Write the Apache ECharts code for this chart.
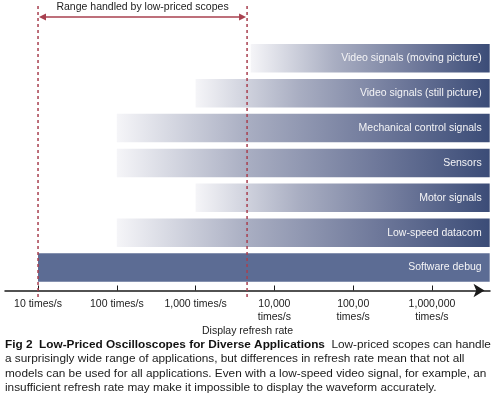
<!DOCTYPE html>
<html><head><meta charset="utf-8">
<script src="https://cdn.jsdelivr.net/npm/echarts@6/dist/echarts.min.js"></script>
<style>html,body{margin:0;padding:0;background:#fff}#c{width:495px;height:400px}</style>
</head><body><div id="c"></div>
<script>
// ---- data ----
const categories = ['', 'Video signals (moving picture)', 'Video signals (still picture)', 'Mechanical control signals', 'Sensors', 'Motor signals', 'Low-speed datacom', 'Software debug'];
const startRates = [null, 5000, 1000, 100, 100, 1000, 100, 10];
const endRates = [null, 5.4e6, 5.4e6, 5.4e6, 5.4e6, 5.4e6, 5.4e6, 5.4e6];
const solidRows = [false, false, false, false, false, false, false, true];
const tickRates = [10, 100, 1000, 10000, 100000, 1000000];
const tickLabels = ['10 times/s', '100 times/s', '1,000 times/s', '10,000\ntimes/s', '100,00\ntimes/s', '1,000,000\ntimes/s'];
const rangeRates = [10, 4500];
const rangeLabel = 'Range handled by low-priced scopes';
const axisRange = [3.81, 5.45e6];
const axisName = 'Display refresh rate';
const captionTitle = 'Fig 2  Low-Priced Oscilloscopes for Diverse Applications';
const captionLines = [
  '  Low-priced scopes can handle',
  'a surprisingly wide range of applications, but differences in refresh rate mean that not all',
  'models can be used for all applications. Even with a low-speed video signal, for example, an',
  'insufficient refresh rate may make it impossible to display the waveform accurately.'
];

// ---- chart ----
const FONT = '"Liberation Sans", Arial, Helvetica, sans-serif';
const lg = v => Math.log10(v);
const tickExps = tickRates.map(lg);
const grad = new echarts.graphic.LinearGradient(0, 0, 1, 0, [
  {offset: 0, color: '#f5f5f8'},
  {offset: 0.35, color: '#a9aec2'},
  {offset: 0.7, color: '#6e789a'},
  {offset: 1, color: '#3b4c77'}
]);
const baseData = startRates.map(v => v == null ? '-' : lg(v));
const spanData = startRates.map((v, i) => v == null ? '-' : {
  value: lg(endRates[i]) - lg(v),
  itemStyle: {color: solidRows[i] ? '#5c6c94' : grad}
});

const chart = echarts.init(document.getElementById('c'), null, {renderer: 'canvas'});
chart.setOption({
  animation: false,
  backgroundColor: '#fff',
  textStyle: {fontFamily: FONT},
  title: {
    left: 5, top: 337, padding: 0,
    text: '{b|' + captionTitle + '}' + captionLines.join('\n'),
    textStyle: {
      fontSize: 11.8, fontWeight: 'normal', color: '#1a1a1a', lineHeight: 14.5, fontFamily: FONT,
      rich: {b: {fontSize: 11.8, fontWeight: 'bold', color: '#111', lineHeight: 14.5, fontFamily: FONT}}
    }
  },
  grid: {left: 5, right: 5, top: 6, height: 279, containLabel: false},
  xAxis: {
    type: 'value', min: lg(axisRange[0]), max: lg(axisRange[1]), offset: 5.5,
    axisLine: {show: true, symbol: ['none', 'arrow'], symbolSize: [10, 11], symbolOffset: [0, -5.5],
      lineStyle: {color: '#1a1a1a', width: 1.5}},
    axisTick: {show: true, inside: true, length: 5, customValues: tickExps, lineStyle: {color: '#1a1a1a', width: 1}},
    axisLabel: {
      customValues: tickExps, margin: 7, fontSize: 10.5, color: '#222', lineHeight: 13, fontFamily: FONT,
      formatter: v => {
        let best = 0;
        tickExps.forEach((t, i) => { if (Math.abs(t - v) < Math.abs(tickExps[best] - v)) best = i; });
        return tickLabels[best];
      }
    },
    splitLine: {show: false},
    name: axisName, nameLocation: 'middle', nameGap: 35, nameMoveOverlap: false,
    nameTextStyle: {fontSize: 10.5, color: '#222', fontFamily: FONT}
  },
  yAxis: {
    type: 'category', data: categories, inverse: true,
    axisLine: {show: false}, axisTick: {show: false}, axisLabel: {show: false}, splitLine: {show: false}
  },
  series: [
    {type: 'bar', stack: 'r', data: baseData, barWidth: 28.5, silent: true,
      itemStyle: {color: 'rgba(0,0,0,0)'}},
    {type: 'bar', stack: 'r', data: spanData, barWidth: 28.5, silent: true,
      label: {show: true, position: 'insideRight', distance: 8, formatter: '{b}',
        color: '#f4f4f6', fontSize: 10.5, fontFamily: FONT}},
    {
      type: 'custom', coordinateSystem: 'cartesian2d', clip: false, silent: true, z: 10,
      data: [[lg(rangeRates[0]), lg(rangeRates[1]), 0]],
      encode: {x: [0, 1], y: 2},
      renderItem: (params, api) => {
        const cs = params.coordSys;
        const x1 = api.coord([api.value(0), 0])[0];
        const x2 = api.coord([api.value(1), 0])[0];
        const top = cs.y, bottom = cs.y + cs.height + 12, ay = cs.y + 11;
        const col = '#a8404f';
        const dash = {stroke: col, lineWidth: 1.5, lineDash: [3, 3]};
        return {type: 'group', children: [
          {type: 'line', shape: {x1: x1, y1: top, x2: x1, y2: bottom}, style: dash},
          {type: 'line', shape: {x1: x2, y1: top, x2: x2, y2: bottom}, style: dash},
          {type: 'line', shape: {x1: x1 + 3, y1: ay, x2: x2 - 3, y2: ay}, style: {stroke: col, lineWidth: 1.5}},
          {type: 'polygon', shape: {points: [[x1 + 1, ay], [x1 + 8, ay - 3.5], [x1 + 8, ay + 3.5]]}, style: {fill: col}},
          {type: 'polygon', shape: {points: [[x2 - 1, ay], [x2 - 8, ay - 3.5], [x2 - 8, ay + 3.5]]}, style: {fill: col}},
          {type: 'text', style: {text: rangeLabel, x: (x1 + x2) / 2, y: cs.y + 1.5, align: 'center', verticalAlign: 'middle',
            fontSize: 10.5, fill: '#222', fontFamily: FONT}}
        ]};
      }
    }
  ]
});
</script>
</body></html>
